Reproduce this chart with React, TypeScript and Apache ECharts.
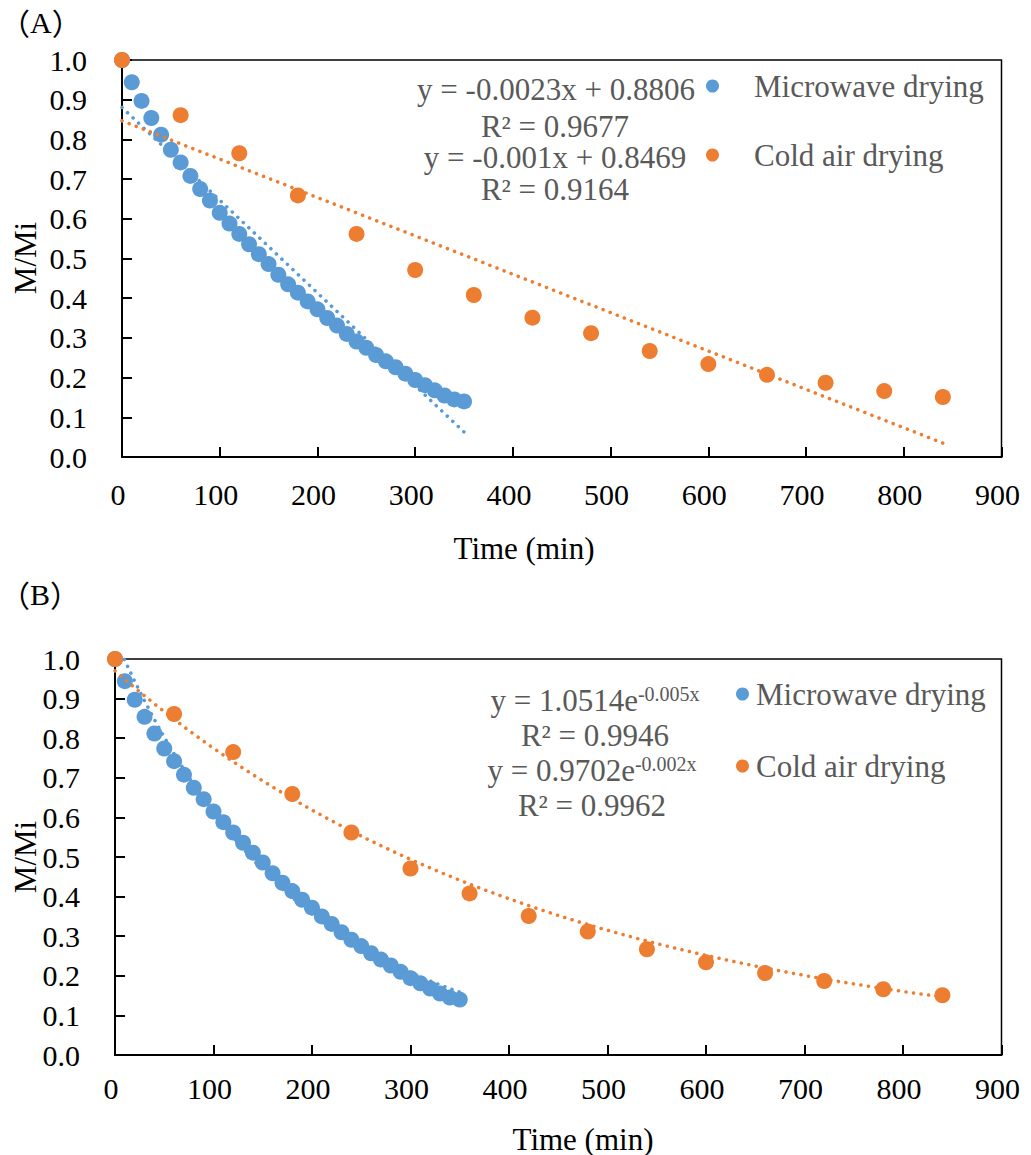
import React, { useEffect, useRef } from "react";
import * as echarts from "echarts";

// ---------------- data ----------------
const microwaveTime = [0, 10, 20, 30, 40, 50, 60, 70, 80, 90, 100, 110, 120, 130, 140, 150, 160, 170, 180, 190, 200, 210, 220, 230, 240, 250, 260, 270, 280, 290, 300, 310, 320, 330, 340, 350];
const microwaveMR = [1.0, 0.944, 0.897, 0.854, 0.812, 0.774, 0.742, 0.708, 0.675, 0.646, 0.615, 0.588, 0.562, 0.536, 0.511, 0.486, 0.459, 0.435, 0.414, 0.392, 0.372, 0.35, 0.331, 0.31, 0.291, 0.275, 0.257, 0.241, 0.226, 0.21, 0.194, 0.181, 0.168, 0.155, 0.145, 0.14];
const coldAirTime = [0, 60, 120, 180, 240, 300, 360, 420, 480, 540, 600, 660, 720, 780, 840];
const coldAirMR = [1.0, 0.861, 0.765, 0.659, 0.562, 0.471, 0.408, 0.351, 0.312, 0.267, 0.234, 0.207, 0.187, 0.166, 0.151];

// linear trendlines (chart A), end points
const linTrendMicrowaveX = [0, 350];
const linTrendMicrowaveY = [0.8806, 0.063];
const linTrendColdX = [0, 840];
const linTrendColdY = [0.8469, 0.035];

// exponential trendlines (chart B): y = a * exp(b x)
const expMicrowaveA = 1.0514;
const expMicrowaveB = -0.0054;
const expColdA = 0.9702;
const expColdB = -0.00225;

const seriesNames = ["Microwave drying", "Cold air drying"];
const equationsA = ["y = -0.0023x + 0.8806", "R² = 0.9677", "y = -0.001x + 0.8469", "R² = 0.9164"];
const equationsB = [
  ["y = 1.0514e", "-0.005x"],
  ["R² = 0.9946"],
  ["y = 0.9702e", "-0.002x"],
  ["R² = 0.9962"],
];

const BLUE = "#5B9BD5";
const ORANGE = "#ED7D31";
const GREY = "#595959";
const SERIF = "'Liberation Serif', 'Times New Roman', serif";
const CJK = "'Noto Sans CJK SC', 'Noto Sans CJK JP', sans-serif";

function zip(xs: number[], ys: number[]) {
  return xs.map((x, i) => [x, ys[i]]);
}

function expCurve(a: number, b: number, xs: number[]) {
  return xs.map((x) => [x, a * Math.exp(b * x)]);
}

export default function App() {
  const ref = useRef<HTMLDivElement>(null);

  useEffect(() => {
    if (!ref.current) return;
    const chart = echarts.init(ref.current, undefined, { renderer: "svg" });

    const xAxisBase = (gridIndex: number, margin: number) => ({
      type: "value",
      gridIndex,
      min: 0,
      max: 900,
      interval: 100,
      axisLine: { show: true, lineStyle: { color: "#000", width: 2 } },
      axisTick: { show: true, inside: true, length: 10, lineStyle: { color: "#000", width: 2 } },
      splitLine: { show: false },
      axisLabel: {
        fontSize: 30,
        fontFamily: SERIF,
        color: "#000",
        margin,
        lineHeight: 30,
        padding: [0, 8, 0, 0],
      },
    });
    const yAxisBase = (gridIndex: number) => ({
      type: "value",
      gridIndex,
      min: 0,
      max: 1,
      interval: 0.1,
      axisLine: { show: true, lineStyle: { color: "#000", width: 2 } },
      axisTick: { show: true, inside: true, length: 10, lineStyle: { color: "#000", width: 2 } },
      splitLine: { show: false },
      axisLabel: {
        fontSize: 30,
        fontFamily: SERIF,
        color: "#000",
        margin: 35,
        formatter: (v: number) => v.toFixed(1),
      },
    });

    const expXsMw = microwaveTime;
    const expXsCold: number[] = [];
    for (let i = 0; i < coldAirTime.length - 1; i++) {
      const a = coldAirTime[i];
      const b = coldAirTime[i + 1];
      for (let k = 0; k < 6; k++) expXsCold.push(a + ((b - a) * k) / 6);
    }
    expXsCold.push(coldAirTime[coldAirTime.length - 1]);

    const dotted = (color: string) => ({
      color,
      width: 3.5,
      type: [0.1, 7.5],
      cap: "round",
    });

    const scatter = (name: string, data: number[][], color: string, idx: number) => ({
      name,
      type: "scatter",
      xAxisIndex: idx,
      yAxisIndex: idx,
      data,
      symbol: "circle",
      symbolSize: 16,
      itemStyle: { color, opacity: 1 },
      clip: false,
      z: 2,
    });
    const trend = (name: string, data: number[][], color: string, idx: number) => ({
      name,
      type: "line",
      xAxisIndex: idx,
      yAxisIndex: idx,
      data,
      showSymbol: false,
      symbol: "none",
      lineStyle: dotted(color),
      clip: true,
      z: 3,
    });

    const textStyle = (text: string, x: number, y: number, color = GREY, size = 31, lineHeight = 34) => ({
      type: "text",
      x,
      y,
      silent: true,
      style: {
        text,
        fontSize: size,
        lineHeight,
        fontFamily: SERIF,
        fill: color,
        align: "center",
        verticalAlign: "middle",
      },
    });

    const supText = (parts: string[], x: number, y: number) => {
      if (parts.length === 1) return textStyle(parts[0], x, y, GREY, 31, 30);
      return {
        type: "text",
        x,
        y,
        silent: true,
        style: {
          text: `{m|${parts[0]}}{s|${parts[1]}}`,
          align: "center",
          verticalAlign: "middle",
          rich: {
            m: { fontSize: 31, fontFamily: SERIF, fill: GREY, color: GREY, lineHeight: 32, verticalAlign: "bottom" },
            s: { fontSize: 20, fontFamily: SERIF, fill: GREY, color: GREY, lineHeight: 32, verticalAlign: "top", padding: [0, 0, 12, 0] },
          },
        },
      };
    };

    const panelTitle = (letter: string, y: number) => ({
      type: "text",
      x: 0,
      y,
      silent: true,
      style: {
        text: `{p|（}{a|${letter}}{p|）}`,
        align: "left",
        verticalAlign: "middle",
        rich: {
          p: { fontSize: 30, fontFamily: CJK, fill: "#000", color: "#000" },
          a: { fontSize: 30, fontFamily: SERIF, fill: "#000", color: "#000" },
        },
      },
    });

    const eqYA = [89, 126, 157, 189];
    const eqXA = [556, 555, 555, 555];
    const eqYB = [700, 735, 770, 805];
    const eqXB = [595, 595, 592, 592];

    const option: any = {
      animation: false,
      backgroundColor: "#fff",
      grid: [
        { left: 122, top: 60, width: 886, height: 397, show: true, borderColor: "#000", borderWidth: 1.5, backgroundColor: "transparent" },
        { left: 115, top: 659, width: 893, height: 396, show: true, borderColor: "#000", borderWidth: 1.5, backgroundColor: "transparent" },
      ],
      xAxis: [xAxisBase(0, 22), xAxisBase(1, 18)],
      yAxis: [yAxisBase(0), yAxisBase(1)],
      legend: [
        {
          data: seriesNames,
          orient: "vertical",
          left: 706,
          top: 70,
          itemGap: 37,
          itemWidth: 13,
          itemHeight: 13,
          icon: "circle",
          selectedMode: false,
          padding: 0,
          textStyle: { fontSize: 31, fontFamily: SERIF, color: GREY, lineHeight: 32, padding: [0, 0, 0, 30] },
        },
        {
          data: seriesNames,
          orient: "vertical",
          left: 736,
          top: 678,
          itemGap: 40,
          itemWidth: 13,
          itemHeight: 13,
          icon: "circle",
          selectedMode: false,
          padding: 0,
          textStyle: { fontSize: 31, fontFamily: SERIF, color: GREY, lineHeight: 32, padding: [0, 0, 0, 2] },
        },
      ],
      graphic: [
        panelTitle("A", 22),
        panelTitle("B", 594),
        { type: "text", x: 25, y: 258, rotation: Math.PI / 2, silent: true, style: { text: "M/Mi", fontSize: 31, fontFamily: SERIF, fill: "#000", align: "center", verticalAlign: "middle" } },
        { type: "text", x: 25, y: 857, rotation: Math.PI / 2, silent: true, style: { text: "M/Mi", fontSize: 31, fontFamily: SERIF, fill: "#000", align: "center", verticalAlign: "middle" } },
        textStyle("Time (min)", 524, 548, "#000"),
        textStyle("Time (min)", 583, 1139, "#000"),
        ...equationsA.map((t, i) => textStyle(t, eqXA[i], eqYA[i], GREY, 31, 26)),
        ...equationsB.map((p, i) => supText(p, eqXB[i], eqYB[i])),
      ],
      series: [
        scatter(seriesNames[0], zip(microwaveTime, microwaveMR), BLUE, 0),
        scatter(seriesNames[1], zip(coldAirTime, coldAirMR), ORANGE, 0),
        trend("Linear (Microwave drying)", zip(linTrendMicrowaveX, linTrendMicrowaveY), BLUE, 0),
        trend("Linear (Cold air drying)", zip(linTrendColdX, linTrendColdY), ORANGE, 0),
        scatter(seriesNames[0], zip(microwaveTime, microwaveMR), BLUE, 1),
        scatter(seriesNames[1], zip(coldAirTime, coldAirMR), ORANGE, 1),
        trend("Expon. (Microwave drying)", expCurve(expMicrowaveA, expMicrowaveB, expXsMw), BLUE, 1),
        trend("Expon. (Cold air drying)", expCurve(expColdA, expColdB, expXsCold), ORANGE, 1),
      ],
    };

    chart.setOption(option);
    return () => chart.dispose();
  }, []);

  return (
    <div
      ref={ref}
      style={{ position: "fixed", left: 0, top: 0, width: 1031, height: 1155, background: "#fff" }}
    />
  );
}
